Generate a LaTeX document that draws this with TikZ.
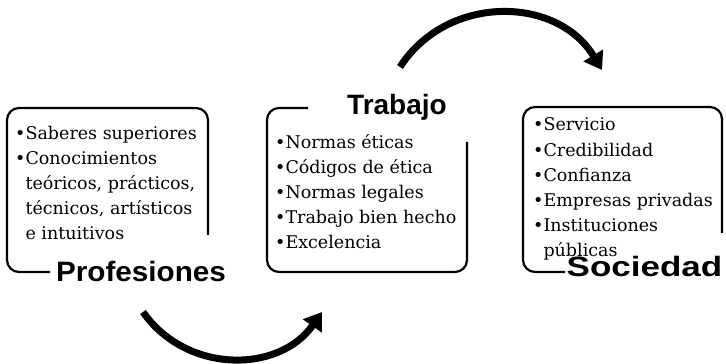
\documentclass[tikz,border=0pt]{standalone}
\usepackage{fontspec}
\setmainfont{DejaVu Serif}
\newfontfamily\headfont{Liberation Sans}
\usetikzlibrary{arrows.meta}

\begin{document}
\begin{tikzpicture}[x=1pt,y=1pt,
    frame/.style={line width=2.2pt, rounded corners=12pt},
    items/.style={anchor=base west, inner sep=0pt, align=left,
      font=\fontsize{17.5}{25.2}\selectfont},
    heading/.style={anchor=base, inner sep=0pt,
      font=\headfont\bfseries\fontsize{28}{30}\selectfont},
    cycle/.style={line width=7pt, -{Triangle[length=17pt,width=22pt]}}]
  \useasboundingbox (0,0) rectangle (726,364);
  % open frames
  \draw[frame] (50,92) -| (7,256) -| (208,129);
  \draw[frame] (308,256) -| (267,92) -| (467,222);
  \draw[frame] (565,92) -| (523,257) -| (722,131);
  % headings
  \node[heading] (profTitle) at (141,82) {\scalebox{1.06}[1]{Profesiones}};
  \node[heading] (trabTitle) at (397,249) {Trabajo};
  \node[heading] (socTitle) at (644.5,87) {\scalebox{1.25}[1]{Sociedad}};
  % lists (anchored at the baseline of the last line)
  \node[items] (profList) at (15,124) {•Saberes superiores\\
    •Conocimientos\\
    \hphantom{•}teóricos, prácticos,\\
    \hphantom{•}técnicos, artísticos\\
    \hphantom{•}e intuitivos};
  \node[items] (trabList) at (275,115) {•Normas éticas\\
    •Códigos de ética\\
    •Normas legales\\
    •Trabajo bien hecho\\
    •Excelencia};
  \node[items] (socList) at (533,107) {•Servicio\\
    •Credibilidad\\
    •Confianza\\
    •Empresas privadas\\
    •Instituciones\\
    \hphantom{•}públicas};
  % cycle arrows
  \coordinate (profOut) at (143,52);
  \coordinate (trabIn) at (322,52);
  \coordinate (trabOut) at (400,297);
  \coordinate (socIn) at (602,294);
  \draw[cycle] (profOut) to[bend right=55, looseness=1.08] (trabIn);
  \draw[cycle] (trabOut) to[bend left=58, looseness=1.1] (socIn);
\end{tikzpicture}
\end{document}
